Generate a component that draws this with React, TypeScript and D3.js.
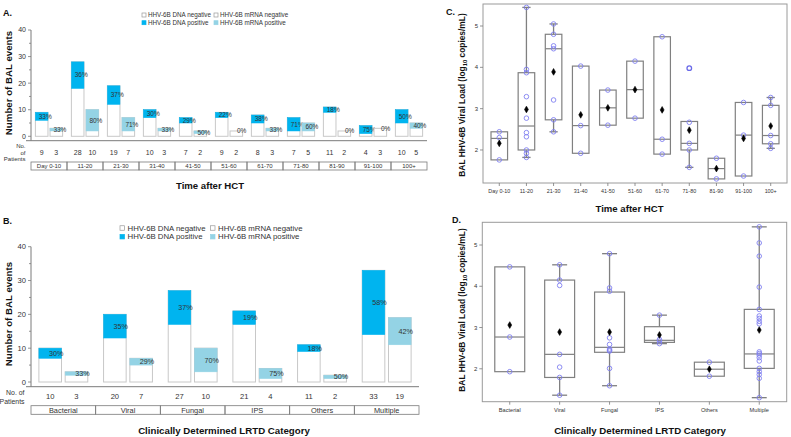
import React from 'react';
import * as d3 from 'd3';

const W = 791;
const H = 437;
const FONT = "'Liberation Sans', Arial, Helvetica, sans-serif";

// ---------- Panel A (time after HCT, bar counts) ----------
const timeCats = ['Day 0-10', '11-20', '21-30', '31-40', '41-50', '51-60', '61-70', '71-80', '81-90', '91-100', '100+'];
const timeDnaTotal = [9, 28, 19, 10, 7, 9, 8, 7, 11, 4, 10];
const timeDnaPos = [3, 10, 7, 3, 2, 2, 3, 5, 2, 3, 5];
const timeDnaPct = ['33%', '36%', '37%', '30%', '29%', '22%', '38%', '71%', '18%', '75%', '50%'];
const timeRnaTotal = [3, 10, 7, 3, 2, 2, 3, 5, 2, 3, 5];
const timeRnaPos = [1, 8, 5, 1, 1, 0, 1, 3, 0, 0, 2];
const timeRnaPct = ['33%', '80%', '71%', '33%', '50%', '0%', '33%', '60%', '0%', '0%', '40%'];

// ---------- Panel B (LRTD category, bar counts) ----------
const lrtdCats = ['Bacterial', 'Viral', 'Fungal', 'IPS', 'Others', 'Multiple'];
const lrtdDnaTotal = [10, 20, 27, 21, 11, 33];
const lrtdDnaPos = [3, 7, 10, 4, 2, 19];
const lrtdDnaPct = ['30%', '35%', '37%', '19%', '18%', '58%'];
const lrtdRnaTotal = [3, 7, 10, 4, 2, 19];
const lrtdRnaPos = [1, 2, 7, 3, 1, 8];
const lrtdRnaPct = ['33%', '29%', '70%', '75%', '50%', '42%'];

const countTicks = [0, 10, 20, 30, 40];
const loadTicks = [2, 3, 4, 5];

// ---------- Panel C (viral load by time) ----------
const cPoints = [
  [2.44, 2.3, 1.76],
  [5.45, 3.95, 3.87, 3.29, 2.77, 2.42, 2.32, 2.0, 1.92, 1.82],
  [5.05, 4.8, 4.52, 4.45, 3.21, 2.73, 2.44],
  [4.03, 2.59, 1.92],
  [3.45, 2.6],
  [4.15, 2.77],
  [4.74, 2.26, 1.9],
  [2.67, 2.16, 2.0, 1.58],
  [1.8, 1.3],
  [3.15, 2.36, 1.37],
  [3.27, 3.08, 2.35, 2.15, 2.04],
];
const cQ3 = [2.44, 3.87, 4.8, 4.03, 3.45, 4.15, 4.74, 2.69, 1.8, 3.15, 3.08];
const cMed = [2.28, 2.58, 4.45, 2.59, 3.02, 3.46, 2.26, 2.16, 1.55, 2.36, 2.35];
const cQ1 = [1.76, 2.0, 2.73, 1.92, 2.6, 2.77, 1.9, 2.0, 1.3, 1.37, 2.15];
const cHi = [2.44, 5.45, 5.05, 4.03, 3.45, 4.15, 4.74, 2.69, 1.8, 3.15, 3.27];
const cLo = [1.76, 1.82, 2.44, 1.92, 2.6, 2.77, 1.9, 1.58, 1.3, 1.37, 2.04];
const cMean = [2.16, 2.98, 3.89, 2.85, 3.02, 3.46, 2.97, 2.48, 1.55, 2.28, 2.58];
const cOutliers = [[], [], [], [], [], [], [], [3.98], [], [], []];

// ---------- Panel D (viral load by LRTD category) ----------
const dPoints = [
  [4.47, 2.77, 1.93],
  [4.52, 4.15, 4.02, 2.35, 2.04, 1.79, 1.36],
  [4.79, 3.96, 3.88, 2.75, 2.59, 2.48, 2.45, 2.43, 2.01, 1.59],
  [3.3, 2.71, 2.67, 2.61],
  [2.16, 1.82],
  [5.44, 5.05, 4.73, 3.98, 3.44, 3.28, 3.22, 3.15, 3.09, 2.41, 2.37, 2.33, 2.27, 2.19, 2.01, 1.93, 1.86, 1.77, 1.3],
];
const dQ3 = [4.47, 4.15, 3.86, 3.02, 2.16, 3.44];
const dMed = [2.77, 2.35, 2.52, 2.69, 1.99, 2.36];
const dQ1 = [1.93, 1.79, 2.4, 2.64, 1.82, 2.01];
const dHi = [4.47, 4.52, 4.79, 3.3, 2.16, 5.44];
const dLo = [1.93, 1.36, 1.59, 2.61, 1.82, 1.3];
const dMean = [3.06, 2.89, 2.89, 2.82, 1.99, 2.94];
const dOutliers = [[], [], [], [], [], []];

const DNA_POS = '#00b4ef';
const RNA_POS = '#94d3e5';
const BAR_STROKE = '#c8c8c8';
const AXIS = '#7a7a7a';
const TXT = '#333';

type BarCfg = {
  cats: string[];
  dnaTotal: number[];
  dnaPos: number[];
  dnaPct: string[];
  rnaTotal: number[];
  rnaPos: number[];
  rnaPct: string[];
  left: number;
  right: number;
  y0: number;
  y40: number;
  lineY: number;
  numY: number;
  boxTop: number;
  boxBot: number;
  catFont: number;
  numFont: number;
  pctFont: number;
  pctOffset: number;
  tickFont: number;
  noOf: { text: string; x: number; y: number }[];
  noOfFont: number;
};

function BarPanel({ c }: { c: BarCfg }) {
  const x = d3.scaleBand<string>().domain(c.cats).range([c.left, c.right]);
  const sub = d3.scaleBand<string>().domain(['dna', 'rna']).range([0, x.bandwidth()]).paddingInner(0.14).paddingOuter(0.3);
  const y = d3.scaleLinear().domain([0, 40]).range([c.y0, c.y40]);
  const minor = d3.range(0, 41, 5);
  const bars: any[] = [];
  c.cats.forEach((cat, i) => {
    const series = [
      { key: 'dna', total: c.dnaTotal[i], pos: c.dnaPos[i], pct: c.dnaPct[i], color: DNA_POS },
      { key: 'rna', total: c.rnaTotal[i], pos: c.rnaPos[i], pct: c.rnaPct[i], color: RNA_POS },
    ];
    series.forEach((s) => {
      const bx = (x(cat) as number) + (sub(s.key) as number);
      const bw = sub.bandwidth();
      const neg = s.total - s.pos;
      const midY = s.pos > 0 ? (y(s.total) + y(neg)) / 2 : y(s.total);
      bars.push(
        <g key={cat + s.key}>
          <rect x={bx} y={y(s.total)} width={bw} height={y(0) - y(s.total)} fill="#fff" stroke={BAR_STROKE} strokeWidth={1} />
          {s.pos > 0 && (
            <rect x={bx} y={y(s.total)} width={bw} height={y(neg) - y(s.total)} fill={s.color} stroke={s.color} strokeWidth={0.5} />
          )}
          <text x={bx + bw + c.pctOffset} y={midY} dy="0.35em" textAnchor="end" fontSize={c.pctFont} fill={TXT}>
            {s.pct}
          </text>
          <text x={bx + bw / 2} y={c.numY} dy="0.35em" textAnchor="middle" fontSize={c.numFont} fill={TXT}>
            {s.total}
          </text>
        </g>
      );
    });
  });
  return (
    <g fontFamily={FONT}>
      <line x1={c.left} x2={c.left} y1={c.y40} y2={c.lineY} stroke={AXIS} strokeWidth={1} />
      {minor.map((t) => (
        <line key={'m' + t} x1={c.left - (t % 10 === 0 ? 3 : 2)} x2={c.left} y1={y(t)} y2={y(t)} stroke={AXIS} strokeWidth={0.8} />
      ))}
      {countTicks.map((t) => (
        <text key={'t' + t} x={c.left - 5} y={y(t)} dy="0.35em" textAnchor="end" fontSize={c.tickFont} fill={TXT}>
          {t}
        </text>
      ))}
      <line x1={c.left - 5} x2={c.right} y1={c.lineY} y2={c.lineY} stroke={AXIS} strokeWidth={1} />
      {bars}
      {c.cats.map((cat) => (
        <g key={'box' + cat}>
          <rect x={x(cat)} y={c.boxTop} width={x.bandwidth()} height={c.boxBot - c.boxTop} fill="none" stroke={AXIS} strokeWidth={0.8} />
          <text x={(x(cat) as number) + x.bandwidth() / 2} y={(c.boxTop + c.boxBot) / 2} dy="0.36em" textAnchor="middle" fontSize={c.catFont} fill={TXT}>
            {cat}
          </text>
        </g>
      ))}
      {c.noOf.map((n) => (
        <text key={n.text} x={n.x} y={n.y} dy="0.35em" textAnchor="end" fontSize={c.noOfFont} fill={TXT}>
          {n.text}
        </text>
      ))}
    </g>
  );
}

type BoxCfg = {
  cats: string[];
  points: number[][];
  q1: number[];
  med: number[];
  q3: number[];
  lo: number[];
  hi: number[];
  mean: number[];
  outliers: number[][];
  left: number;
  right: number;
  top: number;
  bottom: number;
  yMin: number;
  yMax: number;
  padding: number;
  boxFrac: number;
  tickFont: number;
};

function BoxPanel({ c }: { c: BoxCfg }) {
  const x = d3.scalePoint<string>().domain(c.cats).range([c.left, c.right]).padding(c.padding);
  const y = d3.scaleLinear().domain([c.yMin, c.yMax]).range([c.bottom, c.top]);
  const bw = x.step() * c.boxFrac;
  const cw = bw / 2;
  const diamond = d3.symbol().type(d3.symbolDiamond).size(13)();
  const BOX = '#808080';
  const PT = '#8080f0';
  return (
    <g fontFamily={FONT}>
      <rect x={c.left} y={c.top} width={c.right - c.left} height={c.bottom - c.top} fill="none" stroke="#9a9a9a" strokeWidth={1} />
      {loadTicks.map((t) => (
        <g key={'yt' + t}>
          <line x1={c.left - 3} x2={c.left} y1={y(t)} y2={y(t)} stroke={AXIS} strokeWidth={0.8} />
          <text x={c.left - 5} y={y(t)} dy="0.35em" textAnchor="end" fontSize={6} fill={TXT}>
            {t}
          </text>
        </g>
      ))}
      {c.cats.map((cat, i) => {
        const cx = x(cat) as number;
        return (
          <g key={cat}>
            <line x1={cx} x2={cx} y1={c.bottom} y2={c.bottom + 3} stroke={AXIS} strokeWidth={0.8} />
            <text x={cx} y={c.bottom + 8} dy="0.35em" textAnchor="middle" fontSize={c.tickFont} fill={TXT}>
              {cat}
            </text>
            {c.hi[i] > c.q3[i] && (
              <g>
                <line x1={cx} x2={cx} y1={y(c.q3[i])} y2={y(c.hi[i])} stroke={BOX} strokeWidth={1.3} />
                <line x1={cx - cw / 2} x2={cx + cw / 2} y1={y(c.hi[i])} y2={y(c.hi[i])} stroke={BOX} strokeWidth={1.3} />
              </g>
            )}
            {c.lo[i] < c.q1[i] && (
              <g>
                <line x1={cx} x2={cx} y1={y(c.q1[i])} y2={y(c.lo[i])} stroke={BOX} strokeWidth={1.3} />
                <line x1={cx - cw / 2} x2={cx + cw / 2} y1={y(c.lo[i])} y2={y(c.lo[i])} stroke={BOX} strokeWidth={1.3} />
              </g>
            )}
            <rect x={cx - bw / 2} y={y(c.q3[i])} width={bw} height={y(c.q1[i]) - y(c.q3[i])} fill="none" stroke={BOX} strokeWidth={1.2} />
            <line x1={cx - bw / 2} x2={cx + bw / 2} y1={y(c.med[i])} y2={y(c.med[i])} stroke={BOX} strokeWidth={1.2} />
            {c.points[i].map((v, j) => (
              <circle key={j} cx={cx} cy={y(v)} r={2.3} fill="none" stroke={PT} strokeWidth={0.9} />
            ))}
            {c.outliers[i].map((v, j) => (
              <circle key={'o' + j} cx={cx} cy={y(v)} r={2.3} fill="none" stroke="#6a6ae8" strokeWidth={1.3} />
            ))}
            <path d={diamond as string} transform={`translate(${cx},${y(c.mean[i])})`} fill="#000" stroke="#000" strokeWidth={0.6} />
          </g>
        );
      })}
    </g>
  );
}

function Legend({ x1, x2, y1, y2, sq, font, tx }: { x1: number; x2: number; y1: number; y2: number; sq: number; font: number; tx: number }) {
  const items = [
    { x: x1, y: y1, fill: '#fff', stroke: '#999', label: 'HHV-6B DNA negative' },
    { x: x1, y: y2, fill: DNA_POS, stroke: DNA_POS, label: 'HHV-6B DNA positive' },
    { x: x2, y: y1, fill: '#fff', stroke: '#999', label: 'HHV-6B mRNA negative' },
    { x: x2, y: y2, fill: RNA_POS, stroke: RNA_POS, label: 'HHV-6B mRNA positive' },
  ];
  return (
    <g fontFamily={FONT}>
      {items.map((it) => (
        <g key={it.label}>
          <rect x={it.x} y={it.y - sq / 2} width={sq} height={sq} fill={it.fill} stroke={it.stroke} strokeWidth={0.7} />
          <text x={it.x + tx} y={it.y} dy="0.35em" fontSize={font} fill={TXT}>
            {it.label}
          </text>
        </g>
      ))}
    </g>
  );
}

export default function App() {
  const cfgA: BarCfg = {
    cats: timeCats,
    dnaTotal: timeDnaTotal,
    dnaPos: timeDnaPos,
    dnaPct: timeDnaPct,
    rnaTotal: timeRnaTotal,
    rnaPos: timeRnaPos,
    rnaPct: timeRnaPct,
    left: 31,
    right: 427,
    y0: 136.3,
    y40: 30,
    lineY: 140.7,
    numY: 152.7,
    boxTop: 162,
    boxBot: 170,
    catFont: 6,
    numFont: 7,
    pctFont: 6.5,
    pctOffset: 3.8,
    tickFont: 7,
    noOf: [
      { text: 'No.', x: 25.5, y: 146 },
      { text: 'of', x: 25.5, y: 152.5 },
      { text: 'Patients', x: 25.5, y: 159.3 },
    ],
    noOfFont: 6,
  };
  const cfgB: BarCfg = {
    cats: lrtdCats,
    dnaTotal: lrtdDnaTotal,
    dnaPos: lrtdDnaPos,
    dnaPct: lrtdDnaPct,
    rnaTotal: lrtdRnaTotal,
    rnaPos: lrtdRnaPos,
    rnaPct: lrtdRnaPct,
    left: 31,
    right: 419,
    y0: 382,
    y40: 246.7,
    lineY: 386.7,
    numY: 396.7,
    boxTop: 405.7,
    boxBot: 414.3,
    catFont: 7.4,
    numFont: 7.6,
    pctFont: 7.2,
    pctOffset: 1.8,
    tickFont: 7.6,
    noOf: [
      { text: 'No. of', x: 24.5, y: 393 },
      { text: 'Patients', x: 24.5, y: 401.5 },
    ],
    noOfFont: 6.9,
  };
  const cfgC: BoxCfg = {
    cats: timeCats,
    points: cPoints,
    q1: cQ1,
    med: cMed,
    q3: cQ3,
    lo: cLo,
    hi: cHi,
    mean: cMean,
    outliers: cOutliers,
    left: 483,
    right: 787,
    top: 4,
    bottom: 183,
    yMin: 2 - 33 / 41.3,
    yMax: 5 + 22 / 41.3,
    padding: 0.6,
    boxFrac: 0.61,
    tickFont: 5.4,
  };
  const cfgD: BoxCfg = {
    cats: lrtdCats,
    points: dPoints,
    q1: dQ1,
    med: dMed,
    q3: dQ3,
    lo: dLo,
    hi: dHi,
    mean: dMean,
    outliers: dOutliers,
    left: 482.3,
    right: 786.7,
    top: 222.3,
    bottom: 401.7,
    yMin: 2 - 32.9 / 41.25,
    yMax: 5 + 22.7 / 41.25,
    padding: 0.55,
    boxFrac: 0.6,
    tickFont: 5.6,
  };
  const titleStyle = { fontFamily: FONT, fontWeight: 700 as const, fill: '#111' };
  return (
    <svg width={W} height={H} viewBox={`0 0 ${W} ${H}`} style={{ position: 'absolute', left: 0, top: 0, background: '#fff' }}>
      <rect width={W} height={H} fill="#fff" />
      <text x={3} y={16} fontSize={9} {...titleStyle}>A.</text>
      <text x={3} y={224} fontSize={9} {...titleStyle}>B.</text>
      <text x={446} y={15} fontSize={9} {...titleStyle}>C.</text>
      <text x={452} y={223} fontSize={9} {...titleStyle}>D.</text>

      <Legend x1={142} x2={214} y1={15} y2={22.7} sq={4} font={6.3} tx={6} />
      <Legend x1={120} x2={210.5} y1={228} y2={236.7} sq={4.5} font={7.8} tx={7.5} />

      <BarPanel c={cfgA} />
      <BarPanel c={cfgB} />
      <BoxPanel c={cfgC} />
      <BoxPanel c={cfgD} />

      <text transform="translate(12,83) rotate(-90)" textAnchor="middle" fontSize={9.7} {...titleStyle}>Number of BAL events</text>
      <text transform="translate(12,314) rotate(-90)" textAnchor="middle" fontSize={9.7} {...titleStyle}>Number of BAL events</text>
      <text x={210} y={189} textAnchor="middle" fontSize={9.6} {...titleStyle}>Time after HCT</text>
      <text x={224} y={433.5} textAnchor="middle" fontSize={9.7} {...titleStyle}>Clinically Determined LRTD Category</text>
      <text x={629.5} y={211.5} textAnchor="middle" fontSize={9.6} {...titleStyle}>Time after HCT</text>
      <text x={640} y={433.5} textAnchor="middle" fontSize={9.7} {...titleStyle}>Clinically Determined LRTD Category</text>
      <text transform="translate(465,95) rotate(-90)" textAnchor="middle" fontSize={8.4} {...titleStyle}>
        BAL HHV-6B Viral Load (log<tspan fontSize={5.8} dy={2}>10</tspan><tspan dy={-2}> copies/mL)</tspan>
      </text>
      <text transform="translate(465,310) rotate(-90)" textAnchor="middle" fontSize={8.4} {...titleStyle}>
        BAL HHV-6B Viral Load (log<tspan fontSize={5.8} dy={2}>10</tspan><tspan dy={-2}> copies/mL)</tspan>
      </text>
    </svg>
  );
}
